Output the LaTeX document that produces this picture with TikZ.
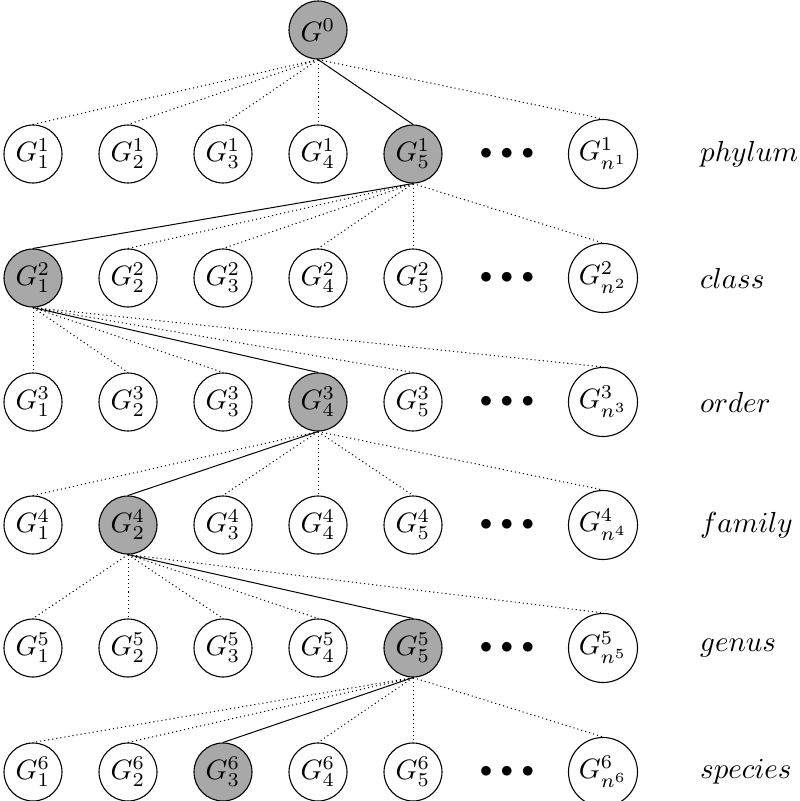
\documentclass[tikz,border=0pt]{standalone}
\usepackage{graphicx}
\definecolor{hlgray}{RGB}{168,168,168}
\newcommand{\gtext}[1]{\scalebox{2.8}{$#1$}}
\newcommand{\labtext}[1]{\scalebox{2.9}{$#1$}}
\tikzset{
  gnode/.style={circle,draw,line width=1.1pt,minimum size=58pt,inner sep=0pt},
  hlnode/.style={gnode,fill=hlgray},
  nnode/.style={gnode,minimum size=69pt},
  dotsnode/.style={inner sep=0pt},
  lab/.style={anchor=west,inner sep=0pt},
  dotedge/.style={line width=1pt,dash pattern=on 1.1pt off 3pt},
  soledge/.style={line width=1pt}
}
\begin{document}
\begin{tikzpicture}[x=1pt,y=-1pt]
\useasboundingbox (0,0) rectangle (800,801);
\node[hlnode] (g0) at (318,30) {\gtext{G^0}};
\foreach \r/\y/\h/\lab in {1/154/5/phylum,2/278/1/class,3/402/4/order,4/525/2/family,5/648/5/genus,6/772/3/species} {
  \foreach \c in {1,...,5} {
    \ifnum\c=\h \def\st{hlnode}\else\def\st{gnode}\fi
    \node[\st] (g\r-\c) at ({33+95*(\c-1)},\y) {\gtext{G^{\r}_{\c}}};
  }
  \node[dotsnode] (d\r) at (507,\y) {\scalebox{2.5}{$\bullet\mkern2mu\bullet\mkern2mu\bullet$}};
  \node[nnode] (g\r-n) at (603,\y) {\gtext{G^{\r}_{n^{\r}}}};
  \node[lab] (l\r) at (700,\y) {\labtext{\lab}};
}
\foreach \r/\p/\h in {1/g0/5,2/g1-5/1,3/g2-1/4,4/g3-4/2,5/g4-2/5,6/g5-5/3} {
  \foreach \c in {1,...,5} {
    \ifnum\c=\h \def\est{soledge}\else\def\est{dotedge}\fi
    \draw[\est] (\p.south) -- (g\r-\c.north);
  }
  \draw[dotedge] (\p.south) -- (g\r-n.north);
}
\end{tikzpicture}
\end{document}
